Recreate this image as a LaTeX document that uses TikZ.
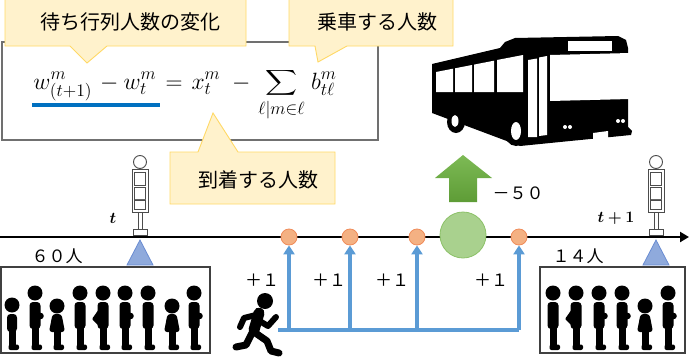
\RequirePackage{fix-cm}
\documentclass[tikz,border=0pt]{standalone}
\usepackage{exscale}
\usepackage{fontspec}
\usepackage{bm}
\newfontfamily\jp{Noto Sans CJK JP}
\usetikzlibrary{arrows.meta}
\DeclareMathSizes{22}{22}{16.5}{12.5}
\DeclareMathSizes{16}{16}{11.5}{9}
\newcommand{\flatsum}{\mathop{\vcenter{\hbox{\scalebox{1}[0.8]{$\displaystyle\sum$}}}}\limits}
\definecolor{noteFill}{HTML}{FFF2CC}
\definecolor{noteEdge}{HTML}{FFD966}
\definecolor{frameGray}{HTML}{707070}
\definecolor{ulBlue}{HTML}{0070C0}
\definecolor{feedBlue}{HTML}{5B9BD5}
\definecolor{dotFill}{HTML}{F4B183}
\definecolor{dotEdge}{HTML}{F08C5A}
\definecolor{boardFill}{HTML}{A9D18E}
\definecolor{boardEdge}{HTML}{8CC168}
\definecolor{stopFill}{HTML}{8FAADC}
\definecolor{stopEdge}{HTML}{6A8CD2}
\definecolor{upTop}{HTML}{7DBA55}
\definecolor{upBot}{HTML}{5E9C36}
\tikzset{
  note/.style={fill=noteFill, draw=noteEdge, line width=0.9pt},
  notetext/.style={font=\jp\fontsize{20}{24}\selectfont, inner sep=0pt},
  numtext/.style={font=\jp\fontsize{17}{20}\selectfont, inner sep=0pt},
  dot/.style={circle, minimum size=16pt, inner sep=0pt, fill=dotFill, draw=dotEdge, line width=0.8pt},
  feed/.style={draw=feedBlue, line width=3.4pt},
  feedtip/.style={feed, -{Triangle[length=9pt,width=11pt]}},
  queuebox/.style={draw=black!75, line width=1.3pt},
  signpart/.style={fill=white, draw=black!70, line width=0.9pt},
  stopmark/.style={fill=stopFill, draw=stopEdge, line width=0.8pt},
  % standing figures, feet at the origin
  tallp/.pic={
    \fill (0,-57) circle[radius=7.5pt];
    \fill[rounded corners=3.5pt] (-5.5,-48) rectangle (5.5,-21);
    \fill (-3.5,-24) rectangle (3.5,-2);
    \fill[rounded corners=2pt] (-3.5,-5.5) rectangle (7,0);
  },
  handp/.pic={
    \pic {tallp};
    \fill (5.5,-34) circle[radius=3.3pt];
  },
  hipp/.pic={
    \pic {tallp};
    \fill[rounded corners=1pt] (-4,-41) -- (-11,-31) -- (-4,-24) -- cycle;
  },
  slimp/.pic={
    \fill (0,-45) circle[radius=7.5pt];
    \fill[rounded corners=3.5pt] (-5,-36) rectangle (5,-18);
    \fill (-3.5,-20) rectangle (3.5,-2);
    \fill[rounded corners=2pt] (-3.5,-5.5) rectangle (7,0);
  },
  kidp/.pic={
    \fill (0,-44) circle[radius=7.5pt];
    \fill[rounded corners=3pt] (-4.5,-36) -- (4.5,-36) -- (8,-18) -- (-8,-18) -- cycle;
    \fill (-3.5,-20) rectangle (3.5,-2);
    \fill[rounded corners=2pt] (-3.5,-5.5) rectangle (7,0);
  },
  stopsign/.pic={
    \draw[signpart] (0,-75) circle[radius=6.5pt];
    \draw[signpart] (-8,-68) rectangle (8,-25);
    \draw[signpart] (-5.5,-65) rectangle (5.5,-52);
    \draw[signpart] (-5.5,-50) rectangle (5.5,-38);
    \fill[black!60] (-5.5,-38) rectangle (5.5,-36.5);
    \draw[signpart] (-5.5,-36.5) rectangle (5.5,-28);
    \draw[signpart] (-2,-25) rectangle (2,-8);
    \draw[signpart] (-7,-8) rectangle (7,-2);
  }
}
\begin{document}
\begin{tikzpicture}[x=1pt,y=-1pt]
\useasboundingbox (0,0) rectangle (693,356);

% formula frame
\draw[draw=frameGray, line width=1.1pt, fill=white] (2,42) rectangle (378,140);
\node[anchor=base, inner sep=0pt] (eq) at (185,89)
  {\scalebox{1.07}{\fontsize{22}{26}\selectfont $\displaystyle w^{m}_{(t+1)} \mkern2mu - w^{m}_{t} \mkern2mu = \mkern2mu x^{m}_{t} \mkern5mu - \mkern2mu \flatsum_{\ell|m\in\ell} \mkern2mu b^{m}_{t\ell}$}};
\coordinate (ulA) at (32,105);
\coordinate (ulB) at (160,105);
\draw[ulBlue, line width=3.5pt] (ulA) -- (ulB);

% callouts
\draw[note] (5,-5) -- (246,-5) -- (246,46) -- (107,46) -- (87,63) -- (70,46) -- (5,46) -- cycle;
\node[notetext] (noteQueue) at (130,22) {待ち行列人数の変化};
\draw[note] (289,-5) -- (453,-5) -- (453,46) -- (347,46) -- (318,62) -- (315,46) -- (289,46) -- cycle;
\node[notetext] (noteBoard) at (377,22) {乗車する人数};
\draw[note] (170,152) -- (198,152) -- (213,113) -- (238,152) -- (335,152) -- (335,204) -- (170,204) -- cycle;
\node[notetext] (noteArrive) at (258,180) {到着する人数};

% bus
\begin{scope}
  \fill (432,64) -- (500,48) -- (505,42) -- (515,38) -- (618,36) -- (626,40) -- (628,48)
        -- (628,127) -- (632,131) -- (631,135) -- (560,142) -- (520,146) -- (432,113) -- cycle;
  \fill (456,122) ellipse[x radius=9pt, y radius=11pt];
  \fill (516,131) ellipse[x radius=12pt, y radius=15pt];
  \fill[white] (455,121) ellipse[x radius=3.5pt, y radius=6pt];
  \fill[white] (516,131) ellipse[x radius=5pt, y radius=9pt];
  \fill[white] (436,72) -- (453,68.7) -- (453,92) -- (436,92) -- cycle;
  \fill[white] (455,68.3) -- (472,65) -- (472,92) -- (455,92) -- cycle;
  \fill[white] (474,64.6) -- (494,60.7) -- (494,92) -- (474,92) -- cycle;
  \fill[white] (497,60) -- (523,55) -- (523,92) -- (497,92) -- cycle;
  \fill[white] (528,60) -- (537,58.5) -- (537,137) -- (528,137) -- cycle;
  \fill[white] (539,57.5) -- (547,56) -- (547,135) -- (539,136) -- cycle;
  \fill[white] (550,55) -- (630,53) -- (630,99) -- (550,101) -- cycle;
  \fill[white] (568,41) rectangle (612,51);
  \fill[white] (565,127) circle[radius=2pt] (570,127) circle[radius=2pt]
               (618,121) circle[radius=2pt] (623,121) circle[radius=2pt];
  \fill[white] (593,133) -- (608,131) -- (608,138) -- (593,140) -- cycle;
\end{scope}

% boarding arrow and group
\shade[top color=upTop, bottom color=upBot]
  (449,202) -- (449,178) -- (435,178) -- (463,155) -- (492,178) -- (477,178) -- (477,202) -- cycle;
\node[numtext] (boardNum) at (518,193) {－５０};

% stop signs
\pic at (140,237) {stopsign};
\pic at (656,237) {stopsign};

% time axis
\coordinate (axisStart) at (0,237);
\coordinate (axisEnd) at (689,237);
\draw[line width=2.6pt, -{Triangle[length=9pt,width=10pt]}] (axisStart) -- (axisEnd);
\node (tNow) at (113,218) {\fontsize{16}{18}\selectfont $\bm{t}$};
\node (tNext) at (616,218) {\fontsize{16}{18}\selectfont $\bm{t+1}$};

\node[circle, minimum size=46pt, inner sep=0pt, fill=boardFill, draw=boardEdge, line width=0.8pt] (board) at (463,235) {};

\node[dot] (d1) at (289,237) {};
\node[dot] (d2) at (350,237) {};
\node[dot] (d3) at (417,237) {};
\node[dot] (d4) at (519,237) {};

% stop markers
\draw[stopmark] (140,240) -- (153,265) -- (127,265) -- cycle;
\draw[stopmark] (656,240) -- (669,265) -- (643,265) -- cycle;

% arrivals
\coordinate (hub) at (278,330);
\draw[feed] (hub) -- (hub -| d4);
\draw[feedtip] (d1 |- hub) -- (d1.south);
\draw[feedtip] (d2 |- hub) -- (d2.south);
\draw[feedtip] (d3 |- hub) -- (d3.south);
\draw[feedtip] (d4 |- hub) -- (d4.south);
\node[numtext] (p1) at (262,280) {＋１};
\node[numtext] (p2) at (329,280) {＋１};
\node[numtext] (p3) at (392,280) {＋１};
\node[numtext] (p4) at (491,280) {＋１};

% runner
\begin{scope}[line cap=round, line join=round]
  \fill (265,301) circle[radius=8pt];
  \draw[line width=11pt] (259,313) -- (254,330);
  \draw[line width=6pt] (256,315) -- (244,318) -- (240,327);
  \draw[line width=6pt] (258,320) -- (268,326) -- (276,317);
  \draw[line width=7pt] (254,332) -- (267,341) -- (271,351) -- (279,353);
  \draw[line width=7pt] (252,333) -- (246,345) -- (236,347);
\end{scope}

% queues
\node[numtext] (q1) at (57,256) {６０人};
\draw[queuebox] (1,267) rectangle (210,353);
\pic at (12,350) {slimp};
\pic at (35,350) {handp};
\pic at (57,350) {kidp};
\pic at (80,350) {tallp};
\pic at (103,350) {hipp};
\pic at (125,350) {handp};
\pic at (148,350) {tallp};
\pic at (172,350) {kidp};
\pic at (194,350) {handp};

\node[numtext] (q2) at (578,256) {１４人};
\draw[queuebox] (540,267) rectangle (685,353);
\pic at (553,350) {tallp};
\pic at (576,350) {hipp};
\pic at (599,350) {handp};
\pic at (622,350) {handp};
\pic at (645,350) {kidp};
\pic at (668,350) {handp};
\end{tikzpicture}
\end{document}
